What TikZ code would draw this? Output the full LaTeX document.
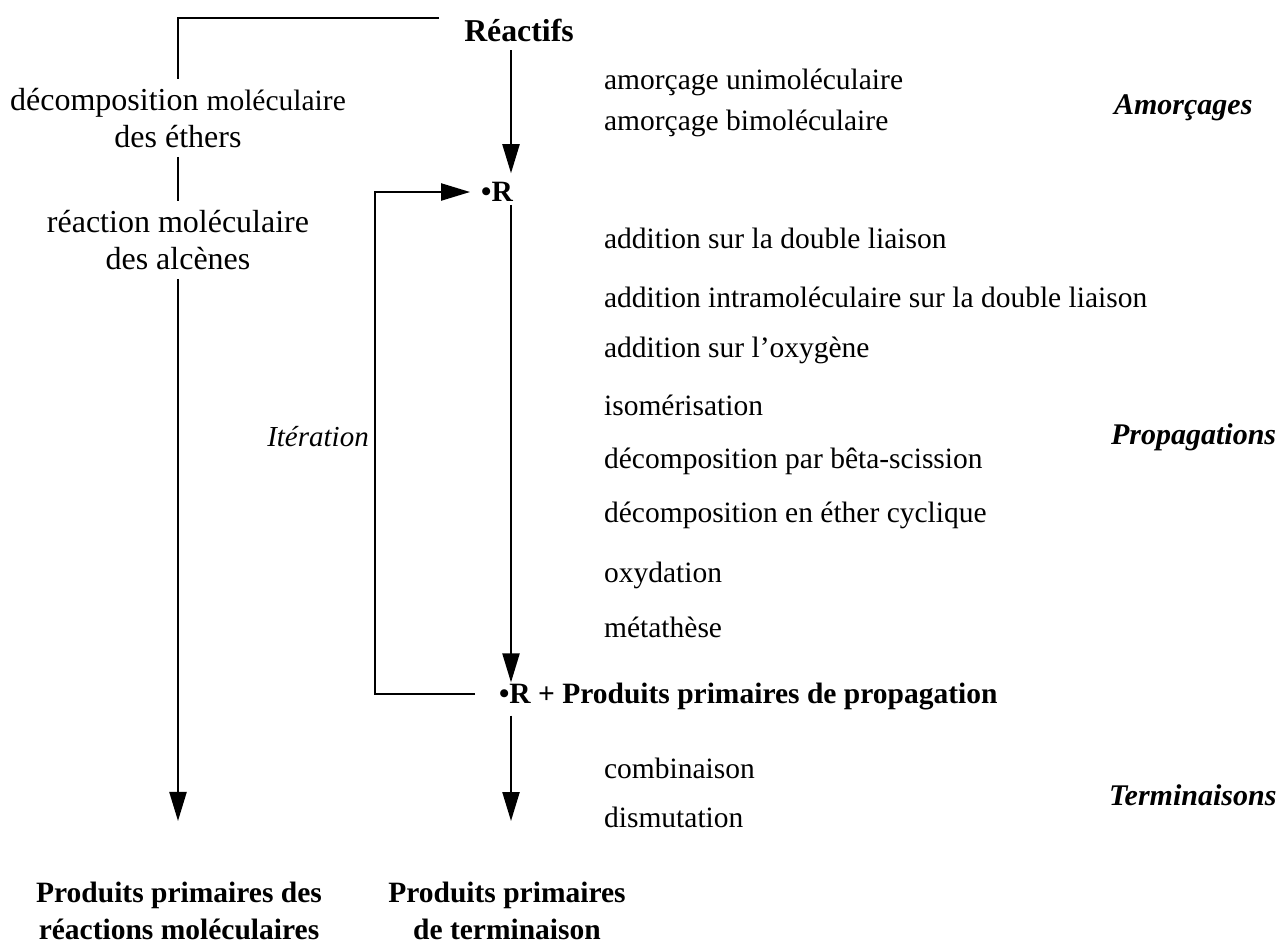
\documentclass[tikz,border=0pt]{standalone}
\usepackage{fontspec}
\setmainfont{Liberation Serif}
\usetikzlibrary{arrows.meta}
\begin{document}
\begin{tikzpicture}[x=1pt,y=-1pt,
  line width=2.2pt,
  lbl/.style={font=\fontsize{32}{37}\selectfont, inner sep=8pt},
  bld/.style={font=\fontsize{29.5}{37}\selectfont\bfseries, inner sep=8pt},
  itl/.style={font=\fontsize{29}{36}\selectfont\itshape, inner sep=0pt},
  grp/.style={font=\fontsize{30}{36}\selectfont\bfseries\itshape, inner sep=0pt, anchor=west},
  stp/.style={font=\fontsize{29.5}{36}\selectfont, inner sep=0pt, anchor=west},
  arr/.style={-{Triangle[length=29pt,width=17pt]}}
]
\useasboundingbox (0,0) rectangle (1282,948);
\coordinate (ax) at (511,0);
\coordinate (lx) at (178,0);
% main nodes
\node[bld, font=\fontsize{31.8}{37}\selectfont\bfseries] (reac) at (519,30) {Réactifs};
\node[bld] (R) at (497,192) {•R};
\node[bld, anchor=west] (Rp) at (490,697) {•R + Produits primaires de propagation};
\node[bld, align=center] (ppt) at (507,911) {Produits primaires\\de terminaison};
\node[lbl, align=center] (dec) at (178,118) {décomposition {\fontsize{29.5}{37}\selectfont moléculaire}\\des éthers};
\node[lbl, align=center] (rea) at (178,240) {réaction moléculaire\\des alcènes};
\node[bld, align=center] (ppm) at (179,911) {Produits primaires des\\réactions moléculaires};
\node[itl] (iter) at (318,437) {Itération};
% step labels
\node[stp] (s1) at (603,82) {amorçage unimoléculaire};
\node[stp] (s2) at (603,123) {amorçage bimoléculaire};
\node[stp] (s3) at (603,238) {addition sur la double liaison};
\node[stp] (s4) at (603,297) {addition intramoléculaire sur la double liaison};
\node[stp] (s5) at (603,350) {addition sur l’oxygène};
\node[stp] (s6) at (603,405) {isomérisation};
\node[stp] (s7) at (603,461) {décomposition par bêta-scission};
\node[stp] (s8) at (603,515) {décomposition en éther cyclique};
\node[stp] (s9) at (603,575) {oxydation};
\node[stp] (s10) at (603,627) {métathèse};
\node[stp] (s11) at (603,768) {combinaison};
\node[stp] (s12) at (603,817) {dismutation};
% group labels
\node[grp] (g1) at (1113,108) {Amorçages};
\node[grp] (g2) at (1110,437) {Propagations};
\node[grp] (g3) at (1108,795) {Terminaisons};
% connectors
\draw ([xshift=-16pt,yshift=12pt]reac.west) -| (dec.north -| lx);
\draw (dec.south -| lx) -- (rea.north -| lx);
\draw[arr] (rea.south -| lx) -- ([yshift=52pt]ppm.north -| lx);
\draw[arr] (reac.south -| ax) -- (R.north -| ax);
\draw[arr] ([yshift=6pt]R.south -| ax) -- ([yshift=-8pt]Rp.north -| ax);
\draw[arr] ([yshift=4pt]Rp.south -| ax) -- ([yshift=52pt]ppt.north -| ax);
\draw[arr] ([xshift=-15pt,yshift=3pt]Rp.west) -| ([xshift=-97pt]R.west) -- ([xshift=-2pt]R.west);
\end{tikzpicture}
\end{document}
